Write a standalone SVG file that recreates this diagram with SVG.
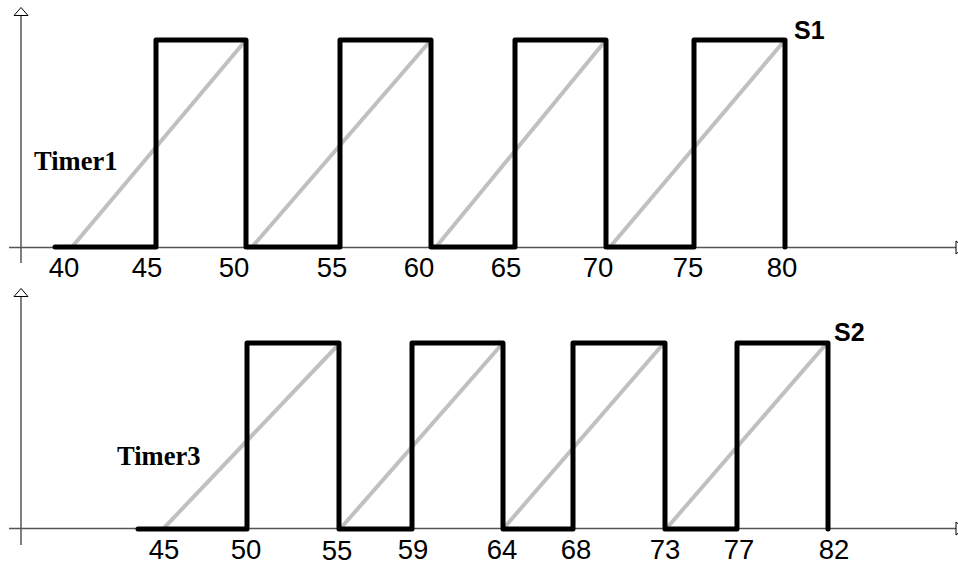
<svg xmlns="http://www.w3.org/2000/svg" width="958" height="566" viewBox="0 0 958 566">
<style>
.ax{stroke:#555;stroke-width:1.5;fill:none}
.ay{stroke:#000;stroke-width:1;fill:none}
.arr{fill:#fff;stroke:#000;stroke-width:1}
.sig{fill:none;stroke:#000;stroke-width:5;stroke-linejoin:round;stroke-linecap:round}
.ramp{stroke:#c0c0c0;stroke-width:4;fill:none}
.num{font-family:"Liberation Sans",Arial,sans-serif;font-size:27.5px;fill:#000;text-anchor:middle}
.lbl{font-family:"Liberation Sans",Arial,sans-serif;font-size:25px;font-weight:bold;fill:#000}
.tmr{font-family:"Liberation Serif","Times New Roman",serif;font-size:26.5px;font-weight:bold;fill:#000}
</style>
<g id="axes">
<line class="ay" x1="21" y1="15" x2="21" y2="263"/>
<polygon class="arr" points="21,7.5 14,15.5 28,15.5"/>
<line class="ax" x1="9" y1="247.5" x2="956" y2="247.5"/>
<polygon class="arr" points="964,247.5 956,241 956,254"/>
<line class="ay" x1="21" y1="297" x2="21" y2="545"/>
<polygon class="arr" points="21,288.5 14,296.5 28,296.5"/>
<line class="ax" x1="9" y1="528.5" x2="956" y2="528.5"/>
<polygon class="arr" points="964,528.5 956,522 956,535"/>
</g>
<g id="ramps">
<line class="ramp" x1="72" y1="247" x2="246" y2="40"/>
<line class="ramp" x1="252" y1="247" x2="431" y2="40"/>
<line class="ramp" x1="436" y1="247" x2="606" y2="40"/>
<line class="ramp" x1="610" y1="247" x2="785" y2="40"/>
<line class="ramp" x1="163" y1="529" x2="340" y2="343"/>
<line class="ramp" x1="340" y1="529" x2="503" y2="343"/>
<line class="ramp" x1="503" y1="529" x2="664" y2="343"/>
<line class="ramp" x1="666" y1="529" x2="827" y2="343"/>
</g>
<g id="S1">
<path class="sig" d="M55,247 H156 V40 H246 V247 H340 V40 H431 V247 H515 V40 H606 V247 H694 V40 H785 V247"/>
<text class="lbl" x="794" y="39">S1</text>
</g>
<g id="S2">
<path class="sig" d="M138,529 H247 V343 H339 V529 H412 V343 H503 V529 H573 V343 H665 V529 H737 V343 H828 V529"/>
<text class="lbl" x="834" y="341">S2</text>
</g>
<g id="timer1"><text class="tmr" x="34" y="170">Timer1</text></g>
<g id="timer3"><text class="tmr" x="117" y="465">Timer3</text></g>
<g id="labels1">
<text class="num" x="64" y="277">40</text>
<text class="num" x="147" y="277">45</text>
<text class="num" x="234" y="277">50</text>
<text class="num" x="332" y="277">55</text>
<text class="num" x="419" y="277">60</text>
<text class="num" x="506" y="277">65</text>
<text class="num" x="598" y="277">70</text>
<text class="num" x="688" y="277">75</text>
<text class="num" x="782" y="277">80</text>
</g>
<g id="labels2">
<text class="num" x="164" y="559">45</text>
<text class="num" x="246" y="559">50</text>
<text class="num" x="337" y="560">55</text>
<text class="num" x="413" y="559">59</text>
<text class="num" x="502" y="559">64</text>
<text class="num" x="576" y="559">68</text>
<text class="num" x="665" y="559">73</text>
<text class="num" x="739" y="559">77</text>
<text class="num" x="834" y="559">82</text>
</g>
</svg>
